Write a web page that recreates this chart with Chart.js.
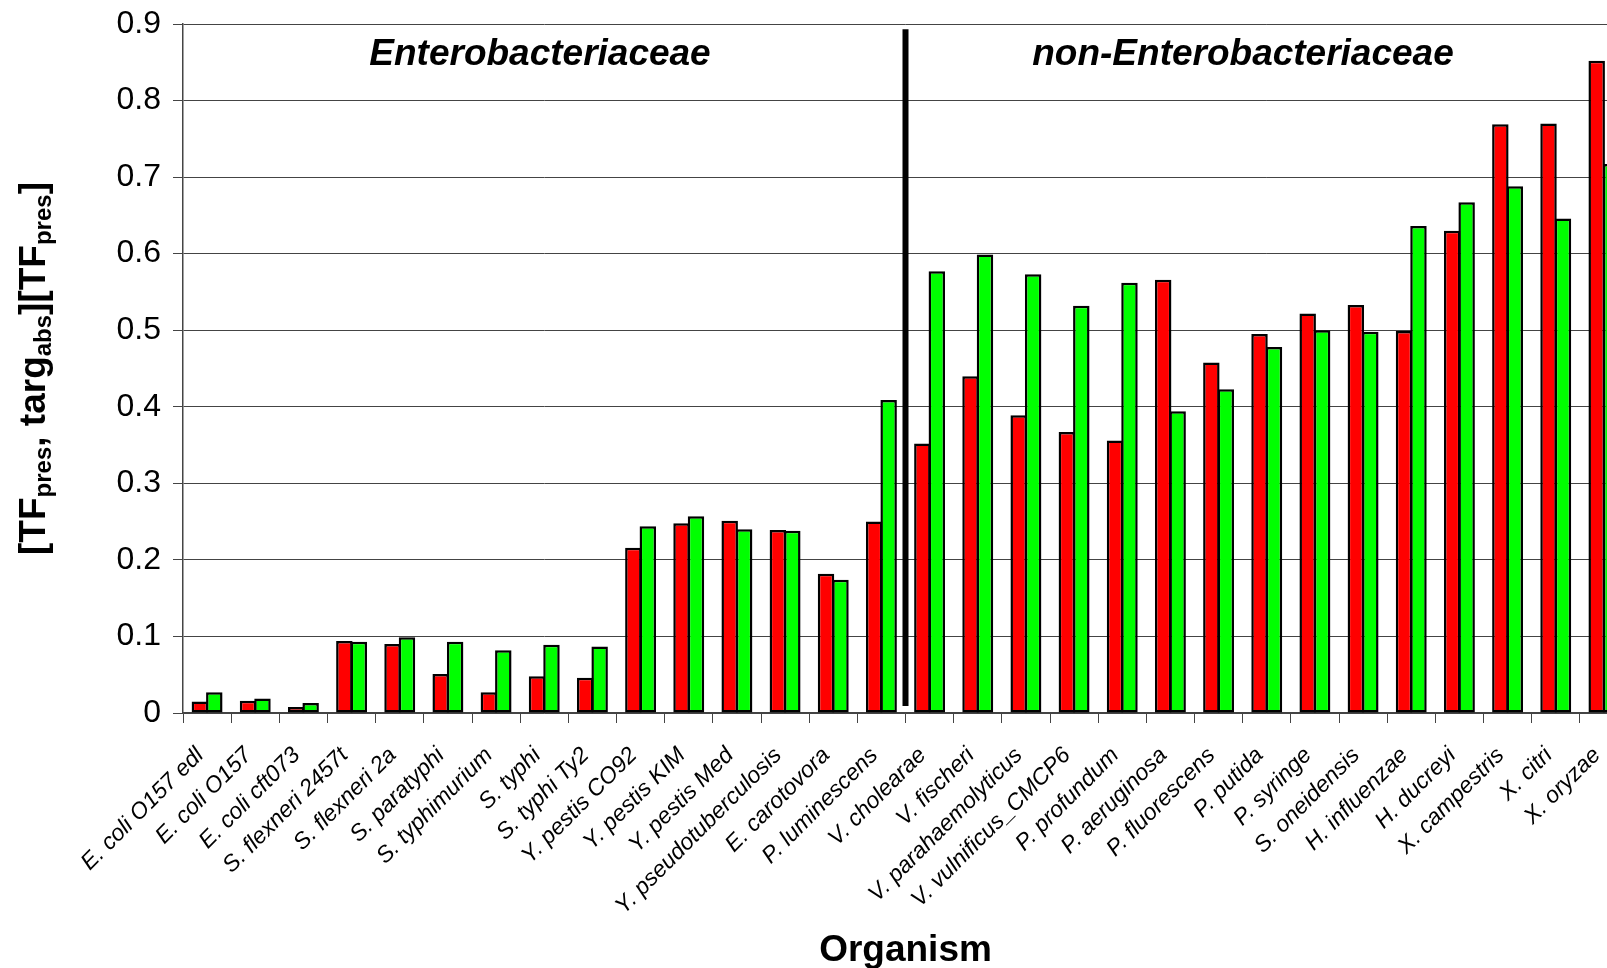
<!DOCTYPE html>
<html>
<head>
<meta charset="utf-8">
<style>
html,body{margin:0;padding:0;overflow:hidden;background:#fff;width:1607px;height:968px}
#wrap{position:absolute;left:0;top:0;width:1628px;height:968px}
canvas{display:block}
</style>
<script src="https://cdn.jsdelivr.net/npm/chart.js@4.4.1/dist/chart.umd.min.js"></script>
</head>
<body>
<div id="wrap"><canvas id="c" width="1628" height="968"></canvas></div>
<script>
const categories = [
  'E. coli O157 edl','E. coli O157','E. coli cft073','S. flexneri 2457t','S. flexneri 2a',
  'S. paratyphi','S. typhimurium','S. typhi','S. typhi Ty2','Y. pestis CO92',
  'Y. pestis KIM','Y. pestis Med','Y. pseudotuberculosis','E. carotovora','P. luminescens',
  'V. cholearae','V. fischeri','V. parahaemolyticus','V. vulnificus_CMCP6','P. profundum',
  'P. aeruginosa','P. fluorescens','P. putida','P. syringe','S. oneidensis',
  'H. influenzae','H. ducreyi','X. campestris','X. citri','X. oryzae'
];
const seriesRed = [
  0.015,0.016,0.008,0.094,0.090,
  0.051,0.027,0.048,0.046,0.216,
  0.248,0.251,0.239,0.182,0.250,
  0.352,0.440,0.389,0.367,0.356,
  0.566,0.458,0.495,0.522,0.533,
  0.499,0.630,0.769,0.770,0.852
];
const seriesGreen = [
  0.027,0.019,0.013,0.093,0.099,
  0.093,0.082,0.089,0.087,0.244,
  0.257,0.240,0.238,0.174,0.409,
  0.577,0.599,0.573,0.532,0.562,
  0.394,0.423,0.478,0.500,0.498,
  0.636,0.667,0.688,0.646,0.717
];
const yTickLabels = ['0','0.1','0.2','0.3','0.4','0.5','0.6','0.7','0.8','0.9'];
const groupLabels = ['Enterobacteriaceae','non-Enterobacteriaceae'];
const dividerAfterIndex = 14;
const dividerRange = [0.009, 0.893];
const xTitle = 'Organism';
const yTitleParts = [['[TF',0],['pres',1],[', targ',0],['abs',1],['][TF',0],['pres',1],[']',0]];

const FONT = "'Liberation Sans', Arial, sans-serif";

const annot = {
  id: 'annot',
  afterDatasetsDraw(chart) {
    const x = chart.scales.x, y = chart.scales.y, ctx = chart.ctx;
    const xm = (x.getPixelForValue(dividerAfterIndex) + x.getPixelForValue(dividerAfterIndex + 1)) / 2;
    ctx.save();
    ctx.strokeStyle = '#000';
    ctx.lineWidth = 6;
    ctx.beginPath();
    ctx.moveTo(xm, y.getPixelForValue(dividerRange[1]));
    ctx.lineTo(xm, y.getPixelForValue(dividerRange[0]));
    ctx.stroke();
    ctx.restore();
  },
  afterDraw(chart) {
    const ctx = chart.ctx, a = chart.chartArea;
    ctx.save();
    ctx.fillStyle = '#000';
    ctx.font = 'italic bold 37px ' + FONT;
    ctx.textAlign = 'center';
    ctx.textBaseline = 'alphabetic';
    ctx.fillText(groupLabels[0], 540, a.top + 41);
    ctx.fillText(groupLabels[1], 1243, a.top + 41);
    ctx.font = 'bold 37px ' + FONT;
    ctx.fillText(xTitle, (a.left + a.right) / 2, 961);
    const mainFont = 'bold 37px ' + FONT, subFont = 'bold 24px ' + FONT;
    let total = 0;
    yTitleParts.forEach(p => { ctx.font = p[1] ? subFont : mainFont; total += ctx.measureText(p[0]).width; });
    ctx.translate(45, (a.top + a.bottom) / 2);
    ctx.rotate(-Math.PI / 2);
    ctx.textAlign = 'left';
    let cx = -total / 2;
    yTitleParts.forEach(p => {
      ctx.font = p[1] ? subFont : mainFont;
      ctx.fillText(p[0], cx, p[1] ? 6 : 0);
      cx += ctx.measureText(p[0]).width;
    });
    ctx.restore();
  }
};

new Chart(document.getElementById('c'), {
  type: 'bar',
  data: {
    labels: categories,
    datasets: [
      { label: 'red', data: seriesRed, backgroundColor: '#ff0000', borderColor: '#000', borderWidth: 2.5, borderSkipped: false,
        categoryPercentage: 0.6, barPercentage: 1.14 },
      { label: 'green', data: seriesGreen, backgroundColor: '#00ff00', borderColor: '#000', borderWidth: 2.5, borderSkipped: false,
        categoryPercentage: 0.6, barPercentage: 1.14 }
    ]
  },
  options: {
    responsive: false,
    animation: false,
    devicePixelRatio: 1,
    layout: { padding: { top: 24, left: 0, right: 0, bottom: 0 } },
    plugins: { legend: { display: false }, tooltip: { enabled: false }, title: { display: false } },
    scales: {
      x: {
        afterFit(s) { s.height = 255; s.paddingLeft = 0; s.paddingRight = 0; },
        grid: { display: true, drawOnChartArea: false, drawTicks: true, tickLength: 10, color: '#444', lineWidth: 1, offset: true },
        border: { display: true, color: '#444', width: 1.5 },
        ticks: { color: '#000', font: { family: FONT, size: 23, style: 'italic' }, maxRotation: 45, minRotation: 45, autoSkip: false, padding: 19, labelOffset: -7 }
      },
      y: {
        min: 0, max: 0.9,
        afterFit(s) { s.width = 183; s.paddingTop = 0; s.paddingBottom = 0; },
        grid: { color: '#444', lineWidth: 1, drawTicks: true, tickLength: 10 },
        border: { display: true, color: '#444', width: 1.5 },
        ticks: { stepSize: 0.1, color: '#000', padding: 12, font: { family: FONT, size: 32 },
          callback: (v, i) => yTickLabels[i] }
      }
    }
  },
  plugins: [annot]
});
</script>
</body>
</html>
